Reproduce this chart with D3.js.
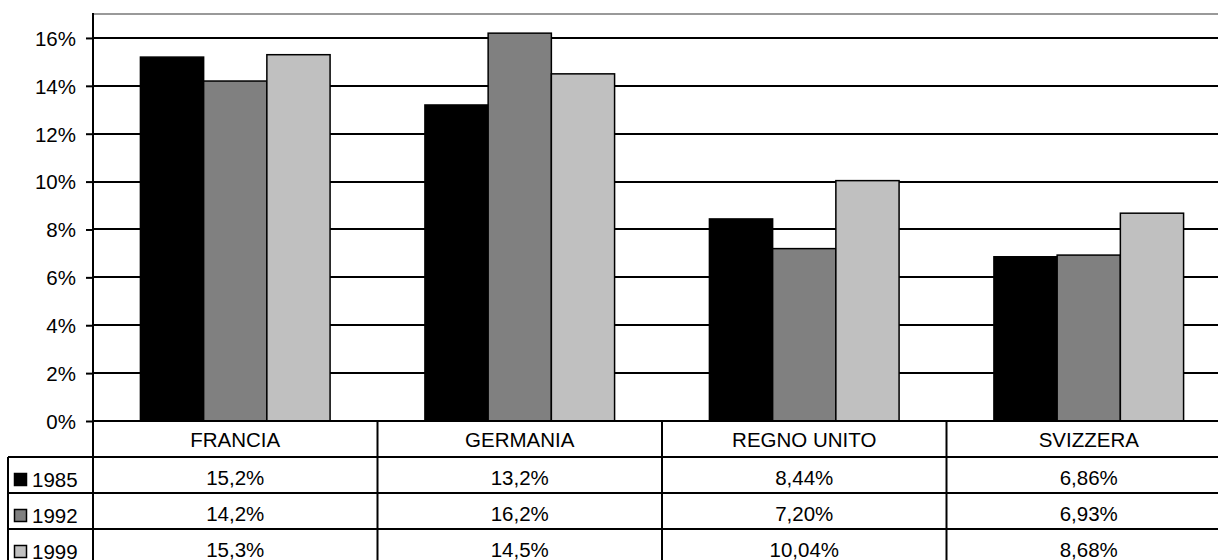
<!DOCTYPE html>
<html>
<head>
<meta charset="utf-8">
<script src="https://cdn.jsdelivr.net/npm/d3@7"></script>
<style>
  html, body { margin: 0; padding: 0; background: #fff; overflow: hidden; }
  svg { display: block; font-family: "Liberation Sans", Arial, sans-serif; }
</style>
</head>
<body>
<div id="chart"></div>
<script>
var categories = ["FRANCIA", "GERMANIA", "REGNO UNITO", "SVIZZERA"];
var years = ["1985", "1992", "1999"];
var values1985 = [0.152, 0.132, 0.0844, 0.0686];
var values1992 = [0.142, 0.162, 0.0720, 0.0693];
var values1999 = [0.153, 0.145, 0.1004, 0.0868];
var labels1985 = ["15,2%", "13,2%", "8,44%", "6,86%"];
var labels1992 = ["14,2%", "16,2%", "7,20%", "6,93%"];
var labels1999 = ["15,3%", "14,5%", "10,04%", "8,68%"];
var yTicks = [0, 0.02, 0.04, 0.06, 0.08, 0.10, 0.12, 0.14, 0.16];
var colors = ["#000000", "#808080", "#c0c0c0"];

var series = [
    { year: years[0], values: values1985, labels: labels1985, color: colors[0] },
    { year: years[1], values: values1992, labels: labels1992, color: colors[1] },
    { year: years[2], values: values1999, labels: labels1999, color: colors[2] }
];

var width = 1218, height = 560;
var plot = { left: 93, right: 1231, top: 14, bottom: 421 };
var rowH = 36;
var tableLeft = 8;
var fontSize = "20.5px";

var svg = d3.select("#chart").append("svg")
    .attr("width", width)
    .attr("height", height);

var x = d3.scaleBand()
    .domain(categories)
    .range([plot.left, plot.right])
    .padding(0);

var xInner = d3.scaleBand()
    .domain(years)
    .range([0, x.bandwidth()])
    .paddingInner(0)
    .paddingOuter(0.75);

var y = d3.scaleLinear()
    .domain([0, 0.17])
    .range([plot.bottom, plot.top]);

// bordo superiore
svg.append("line")
    .attr("x1", plot.left).attr("x2", plot.right)
    .attr("y1", plot.top).attr("y2", plot.top)
    .attr("stroke", "#999").attr("stroke-width", 2);

// griglia
svg.selectAll(".grid")
    .data(yTicks.filter(function(d){ return d > 0 }))
    .enter().append("line")
    .attr("class", "grid")
    .attr("x1", plot.left).attr("x2", plot.right)
    .attr("y1", function(d){ return Math.round(y(d)) })
    .attr("y2", function(d){ return Math.round(y(d)) })
    .attr("stroke", "#000").attr("stroke-width", 2);

// barre
var groups = svg.selectAll(".serie")
    .data(series)
    .enter().append("g")
    .attr("class", "serie");

groups.selectAll("rect")
    .data(function(s){ return s.values.map(function(v, i){ return { v: v, cat: categories[i], year: s.year, color: s.color } }) })
    .enter().append("rect")
    .attr("x", function(d){ return x(d.cat) + xInner(d.year) })
    .attr("width", xInner.bandwidth())
    .attr("y", function(d){ return y(d.v) })
    .attr("height", function(d){ return plot.bottom - y(d.v) })
    .attr("fill", function(d){ return d.color })
    .attr("stroke", "#000")
    .attr("stroke-width", 1.5);

// asse y
var yAxis = d3.axisLeft(y)
    .tickValues(yTicks)
    .tickFormat(d3.format(".0%"))
    .tickSize(7)
    .tickPadding(10);

var ya = svg.append("g")
    .attr("transform", "translate(" + plot.left + ",0)")
    .call(yAxis);
ya.select(".domain").remove();
ya.selectAll(".tick line").attr("stroke", "#000").attr("stroke-width", 2);
ya.selectAll(".tick text")
    .attr("fill", "#000")
    .attr("dy", "0.36em")
    .style("font-size", fontSize)
    .style("font-family", "'Liberation Sans', Arial, sans-serif");

// tabella dati
var tableTop = plot.bottom;
var tableBottom = tableTop + rowH * 4;
var lines = svg.append("g").attr("class", "table-lines")
    .attr("stroke", "#000").attr("stroke-width", 2);

lines.append("line")
    .attr("x1", plot.left).attr("x2", plot.right)
    .attr("y1", tableTop).attr("y2", tableTop);
[1, 2, 3, 4].forEach(function(r){
    lines.append("line")
        .attr("x1", tableLeft).attr("x2", plot.right)
        .attr("y1", tableTop + r * rowH).attr("y2", tableTop + r * rowH);
});

lines.append("line")
    .attr("x1", plot.left).attr("x2", plot.left)
    .attr("y1", plot.top - 1).attr("y2", tableBottom);
lines.append("line")
    .attr("x1", tableLeft).attr("x2", tableLeft)
    .attr("y1", tableTop + rowH).attr("y2", tableBottom);
categories.forEach(function(c){
    lines.append("line")
        .attr("x1", x(c) + x.bandwidth()).attr("x2", x(c) + x.bandwidth())
        .attr("y1", tableTop).attr("y2", tableBottom);
});

// etichette categorie
svg.selectAll(".cat-label")
    .data(categories)
    .enter().append("text")
    .attr("class", "cat-label")
    .attr("x", function(d){ return x(d) + x.bandwidth() / 2 })
    .attr("y", tableTop + 26)
    .attr("text-anchor", "middle")
    .style("font-size", fontSize)
    .text(function(d){ return d });

// righe
series.forEach(function(s, r){
    var rowY = tableTop + (r + 1) * rowH;

    svg.append("rect")
        .attr("x", 14.5).attr("y", rowY + 16.5)
        .attr("width", 12).attr("height", 12)
        .attr("fill", s.color)
        .attr("stroke", "#000").attr("stroke-width", 1.5);

    svg.append("text")
        .attr("x", 32)
        .attr("y", rowY + 30)
        .style("font-size", fontSize)
        .text(s.year);

    svg.selectAll(".val-" + r)
        .data(s.labels)
        .enter().append("text")
        .attr("class", "val-" + r)
        .attr("x", function(d, i){ return x(categories[i]) + x.bandwidth() / 2 })
        .attr("y", rowY + 28)
        .attr("text-anchor", "middle")
        .style("font-size", fontSize)
        .text(function(d){ return d });
});
</script>
</body>
</html>
